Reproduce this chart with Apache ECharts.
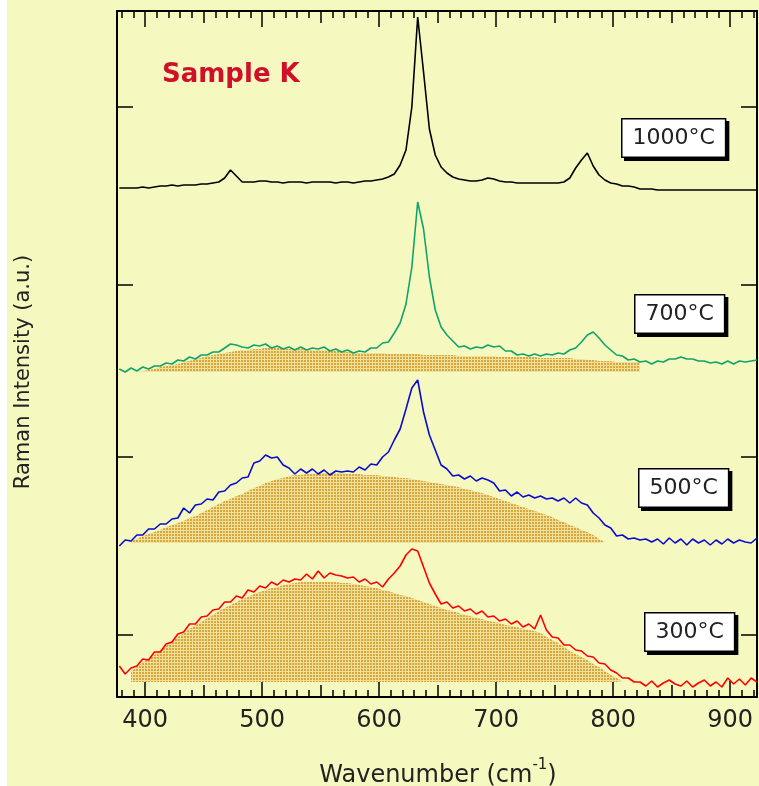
<!DOCTYPE html>
<html>
<head>
<meta charset="utf-8">
<script src="https://cdn.jsdelivr.net/npm/echarts@6/dist/echarts.min.js"></script>
<style>
html, body { margin: 0; background: #fff; }
#main { position: absolute; left: 7px; top: 0; width: 752px; height: 786px; }
</style>
</head>
<body>
<div id="main"></div>
<script>
// wavenumber grid (cm-1), shared by all four spectra
var wavenumber = [
  378,383,388,393,398,403,408,413,418,423,
  428,433,438,443,448,453,458,463,468,473,
  478,483,488,493,498,503,508,513,518,523,
  528,533,538,543,548,553,558,563,568,573,
  578,583,588,593,598,603,608,613,618,623,
  628,633,638,643,648,653,658,663,668,673,
  678,683,688,693,698,703,708,713,718,723,
  728,733,738,743,748,753,758,763,768,773,
  778,783,788,793,798,803,808,813,818,823,
  828,833,838,843,848,853,858,863,868,873,
  878,883,888,893,898,903,908,913,918,923
];

// Raman intensity (a.u., spectra already stacked)
var spec1000 = [
  509,509,509,509,510,509,510,511,511,512,
  511,512,512,512,513,513,514,515,519,527,
  521,515,515,515,516,516,515,515,514,515,
  515,515,514,515,515,515,515,514,515,515,
  514,515,516,516,517,518,520,523,532,547,
  590,680,625,568,542,530,524,520,518,517,
  516,516,517,519,518,516,515,515,514,514,
  514,514,514,514,514,514,515,519,529,537,
  544,531,522,517,514,513,511,511,510,508,
  508,508,507,507,507,507,507,507,507,507,
  507,507,507,507,507,507,507,507,507,507
];
var spec700 = [
  328,325,329,326,330,328,331,331,334,333,
  337,336,340,338,342,342,345,345,349,353,
  352,350,349,352,351,353,349,351,348,350,
  347,350,347,349,348,350,346,348,345,347,
  344,346,345,349,349,354,355,364,374,393,
  430,495,468,420,387,370,362,356,350,351,
  348,350,349,352,350,351,346,346,342,343,
  341,343,341,343,342,344,343,347,349,355,
  362,365,359,352,347,342,341,337,338,335,
  336,333,336,335,338,338,340,338,338,336,
  336,334,335,333,336,333,336,335,336,337
];
var spec500 = [
  151,157,156,162,162,168,168,173,173,178,
  179,189,184,192,193,198,197,205,206,212,
  214,219,220,234,236,242,239,240,232,229,
  223,228,224,228,223,227,222,226,225,226,
  225,230,227,233,232,240,245,257,268,288,
  309,317,285,262,247,232,228,221,222,218,
  221,216,219,217,214,206,207,201,205,200,
  202,199,201,198,199,196,199,194,199,194,
  192,184,179,172,169,161,162,158,159,157,
  158,155,158,153,159,154,158,152,158,154,
  157,152,157,153,158,154,157,155,154,159
];
var spec300 = [
  31,23,29,31,38,37,45,45,53,55,
  63,65,73,73,80,81,87,88,95,95,
  101,99,107,105,111,109,115,112,117,115,
  118,117,123,118,126,119,124,122,121,119,
  120,115,118,113,115,110,118,124,131,142,
  148,146,130,114,103,93,95,89,91,86,
  88,83,86,80,81,76,78,73,76,70,
  73,68,82,67,60,59,52,52,47,46,
  41,40,34,33,27,24,19,19,15,15,
  11,16,10,14,17,13,11,16,10,14,
  17,11,15,10,19,13,18,12,19,15
];

// broad background components (shaded), [wavenumber, intensity]
var hump700 = [
  [393,325],[398,326],[403,327],[408,328],[413,330],[418,331],[423,332],[428,333],[433,335],[438,336],
  [443,338],[448,339],[453,341],[458,342],[463,343],[468,344],[473,345],[478,346],[483,347],[488,347],
  [493,348],[498,348],[503,349],[508,349],[513,349],[518,349],[523,348],[528,348],[533,348],[538,348],
  [543,347],[548,347],[553,347],[558,346],[563,346],[568,346],[573,345],[578,345],[583,344],[588,344],
  [593,344],[598,344],[603,344],[608,343],[613,343],[618,343],[623,343],[628,343],[633,343],[638,342],
  [643,342],[648,342],[653,342],[658,342],[663,342],[668,341],[673,341],[678,341],[683,341],[688,341],
  [693,341],[698,341],[703,340],[708,340],[713,340],[718,340],[723,340],[728,340],[733,340],[738,339],
  [743,339],[748,339],[753,339],[758,339],[763,339],[768,338],[773,338],[778,337],[783,337],[788,336],
  [793,336],[798,336],[803,335],[808,335],[813,335],[818,335],[823,335]
];
var hump500 = [
  [388,156],[393,158],[398,161],[403,163],[408,165],[413,167],[418,170],[423,172],[428,174],[433,176],
  [438,179],[443,181],[448,184],[453,187],[458,190],[463,193],[468,196],[473,198],[478,201],[483,203],
  [488,206],[493,209],[498,211],[503,214],[508,216],[513,218],[518,219],[523,221],[528,222],[533,222],
  [538,223],[543,223],[548,224],[553,224],[558,224],[563,224],[568,224],[573,223],[578,223],[583,223],
  [588,222],[593,222],[598,222],[603,221],[608,221],[613,220],[618,219],[623,219],[628,218],[633,217],
  [638,216],[643,215],[648,214],[653,213],[658,212],[663,211],[668,210],[673,208],[678,207],[683,205],
  [688,204],[693,202],[698,200],[703,198],[708,196],[713,194],[718,192],[723,190],[728,188],[733,186],
  [738,184],[743,182],[748,180],[753,177],[758,175],[763,172],[768,170],[773,167],[778,165],[783,162],
  [788,158],[793,155]
];
var hump300 = [
  [388,26],[393,30],[398,35],[403,38],[408,42],[413,47],[418,51],[423,56],[428,60],[433,64],
  [438,68],[443,72],[448,75],[453,79],[458,82],[463,86],[468,89],[473,92],[478,95],[483,98],
  [488,100],[493,103],[498,105],[503,107],[508,109],[513,110],[518,112],[523,113],[528,114],[533,115],
  [538,115],[543,115],[548,115],[553,115],[558,115],[563,115],[568,114],[573,114],[578,113],[583,112],
  [588,111],[593,110],[598,109],[603,107],[608,106],[613,104],[618,102],[623,101],[628,99],[633,97],
  [638,95],[643,93],[648,91],[653,89],[658,87],[663,86],[668,84],[673,82],[678,81],[683,79],
  [688,78],[693,76],[698,75],[703,74],[708,72],[713,71],[718,70],[723,68],[728,67],[733,66],
  [738,64],[743,60],[748,57],[753,54],[758,50],[763,46],[768,43],[773,40],[778,37],[783,33],
  [788,30],[793,26],[798,22],[803,19],[808,16]
];
var humpBase = [325, 154, 15];

var majorTicks = [400,500,600,700,800,900];
var midTicks = [450,550,650,750,850];
var minorTicks = [380,390,410,420,430,440,460,470,480,490,510,520,530,540,560,570,580,590,
  610,620,630,640,660,670,680,690,710,720,730,740,760,770,780,790,810,820,830,840,860,870,880,890,910,920];
var yTicks = [62,240,412,590];
var tempLabels = ['1000°C','700°C','500°C','300°C'];

var chart = echarts.init(document.getElementById('main'));

// stipple pattern for the shaded background bands
var pc = document.createElement('canvas');
pc.width = 3; pc.height = 3;
var pctx = pc.getContext('2d');
pctx.fillStyle = '#efe09a';
pctx.fillRect(0, 0, 3, 3);
pctx.fillStyle = '#dba63e';
pctx.fillRect(0, 0, 2, 2);
var stipple = { image: pc, repeat: 'repeat' };

function pairs(ys) {
  return wavenumber.map(function (w, i) { return [w, ys[i]]; });
}

var gridBox = { left: 110, right: 2, top: 11, bottom: 89 };
function xAx(grid, pos, ticks, len, main) {
  return {
    type: 'value', gridIndex: grid, position: pos, min: 376, max: 923,
    axisLine: { show: main, onZero: false, lineStyle: { color: '#000', width: 2 } },
    axisTick: { show: true, inside: true, length: len, customValues: ticks,
      lineStyle: { color: '#000', width: 1.5 } },
    axisLabel: { show: main && pos === 'bottom', customValues: ticks, margin: 12,
      fontSize: 24, fontFamily: 'DejaVu Sans', color: '#222' },
    splitLine: { show: false }
  };
}
function yAx(grid, pos, show) {
  return {
    type: 'value', gridIndex: grid, position: pos, min: 0, max: 686, show: show,
    axisLine: { show: true, onZero: false, lineStyle: { color: '#000', width: 2 } },
    axisTick: { show: true, inside: true, length: 16, customValues: yTicks,
      lineStyle: { color: '#000', width: 1.5 } },
    axisLabel: { show: false },
    splitLine: { show: false }
  };
}

var labelPos = [[614, 118], [627, 294], [631, 468], [637, 612]];
var graphics = tempLabels.map(function (t, i) {
  return {
    type: 'text', left: labelPos[i][0], top: labelPos[i][1], z: 10,
    style: {
      text: t, font: '22px "DejaVu Sans"', fill: '#222',
      backgroundColor: '#fff', borderColor: '#000', borderWidth: 1.5,
      padding: [8, 10, 7, 10],
      shadowColor: '#000', shadowOffsetX: 3, shadowOffsetY: 3, shadowBlur: 0
    }
  };
});
graphics.push({
  type: 'text', left: 155, top: 62, z: 10,
  style: {
    text: 'Sample K', font: 'bold 26px "DejaVu Sans"', fill: '#d0102a',
    textShadowColor: 'rgba(0,140,130,0.6)', textShadowOffsetX: 2, textShadowBlur: 0
  }
});
graphics.push({
  type: 'text', x: 17, y: 372, rotation: Math.PI / 2, z: 10,
  style: {
    text: 'Raman Intensity (a.u.)', font: '21px "DejaVu Sans"', fill: '#222',
    align: 'center', verticalAlign: 'middle'
  }
});
graphics.push({
  type: 'text', x: 431, y: 773, z: 10,
  style: {
    text: '{a|Wavenumber (cm}{s|-1}{a|)}', align: 'center', verticalAlign: 'middle',
    rich: {
      a: { fontSize: 24, fontFamily: 'DejaVu Sans', fill: '#222', lineHeight: 30, verticalAlign: 'bottom' },
      s: { fontSize: 15, fontFamily: 'DejaVu Sans', fill: '#222', lineHeight: 30, verticalAlign: 'top' }
    }
  }
});

var humps = [hump700, hump500, hump300];
var series = humps.map(function (h, i) {
  return {
    type: 'line', xAxisIndex: 0, yAxisIndex: 0, data: h, symbol: 'none', silent: true, z: 1,
    lineStyle: { width: 0 },
    areaStyle: { color: stipple, opacity: 1, origin: humpBase[i] }
  };
});
var specs = [spec1000, spec700, spec500, spec300];
var colors = ['#000000', '#12a36a', '#0a0ad0', '#ff0000'];
specs.forEach(function (s, i) {
  series.push({
    name: tempLabels[i], type: 'line', xAxisIndex: 0, yAxisIndex: 0, data: pairs(s),
    symbol: 'none', z: 3, lineStyle: { color: colors[i], width: 1.6 }
  });
});

chart.setOption({
  animation: false,
  backgroundColor: '#f5f9c0',
  grid: [gridBox, gridBox, gridBox],
  xAxis: [
    xAx(0, 'bottom', majorTicks, 16, true),
    xAx(0, 'top', majorTicks, 16, true),
    xAx(1, 'bottom', midTicks, 12, false),
    xAx(1, 'top', midTicks, 12, false),
    xAx(2, 'bottom', minorTicks, 7, false),
    xAx(2, 'top', minorTicks, 7, false)
  ],
  yAxis: [
    yAx(0, 'left', true),
    yAx(0, 'right', true),
    yAx(1, 'left', false),
    yAx(2, 'left', false)
  ],
  graphic: graphics,
  series: series
});
</script>
</body>
</html>
